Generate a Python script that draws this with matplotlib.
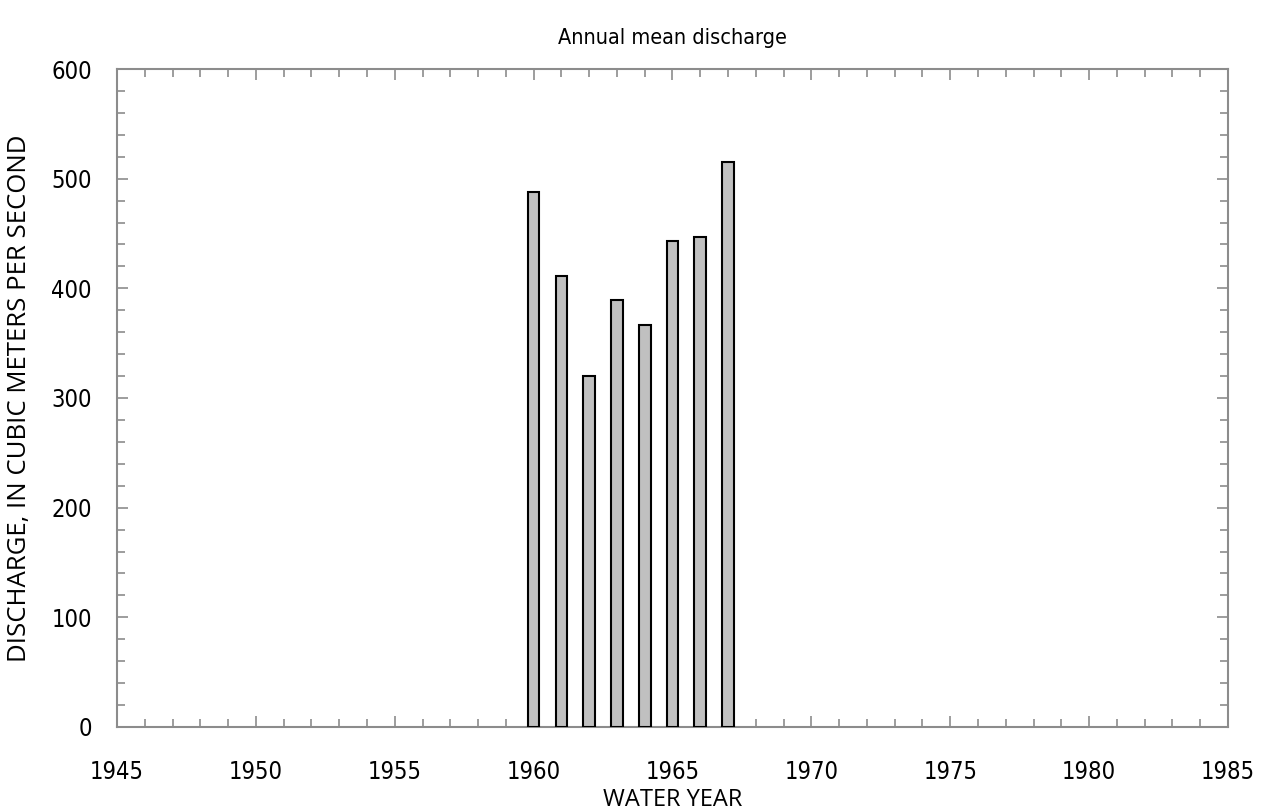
import matplotlib
matplotlib.use("Agg")
import matplotlib.pyplot as plt
import numpy as np

# data
years = [1960, 1961, 1962, 1963, 1964, 1965, 1966, 1967]
discharge = [488, 411, 320, 389, 367, 443, 447, 515]

plt.rcParams['font.family'] = ['DejaVu Sans']
plt.rcParams['font.stretch'] = 'condensed'

fig = plt.figure(figsize=(12.66, 8.1), dpi=100)
ax = fig.add_axes([0.0924, 0.1025, 0.8776, 0.8123])

ax.bar(years, discharge, width=0.42, color="#c0c0c0", edgecolor="black", linewidth=1.5, zorder=3)

ax.set_xlim(1945, 1985)
ax.set_ylim(0, 600)
ax.set_xticks(np.arange(1945, 1986, 5))
ax.set_xticks(np.arange(1945, 1986, 1), minor=True)
ax.set_yticks(np.arange(0, 601, 100))
ax.set_yticks(np.arange(0, 601, 20), minor=True)

grey = "#8c8c8c"
for s in ax.spines.values():
    s.set_color(grey)
    s.set_linewidth(1.5)
ax.tick_params(which="both", direction="in", top=True, right=True, color=grey, width=1.2,
               labelsize=17)
ax.tick_params(which="major", length=8)
ax.tick_params(which="minor", length=6)
ax.tick_params(axis="x", pad=24)
ax.tick_params(axis="y", pad=18)

# title and axis labels placed in axes coords (axes is 1111 x 658 px)
ax.set_title("Annual mean discharge", fontsize=15.5, y=1 + 31 / 658, va="center", pad=0)
ax.set_xlabel("WATER YEAR", fontsize=17, family="Open Sans", stretch="normal")
ax.xaxis.set_label_coords(0.5, -73 / 658)
ax.xaxis.label.set_va("center")
ax.set_ylabel("DISCHARGE, IN CUBIC METERS PER SECOND", fontsize=18.5, family="Open Sans", stretch="normal")
ax.yaxis.set_label_coords(-97 / 1111, 0.5)
ax.yaxis.label.set_va("center")

fig.savefig("out.png", dpi=100)
